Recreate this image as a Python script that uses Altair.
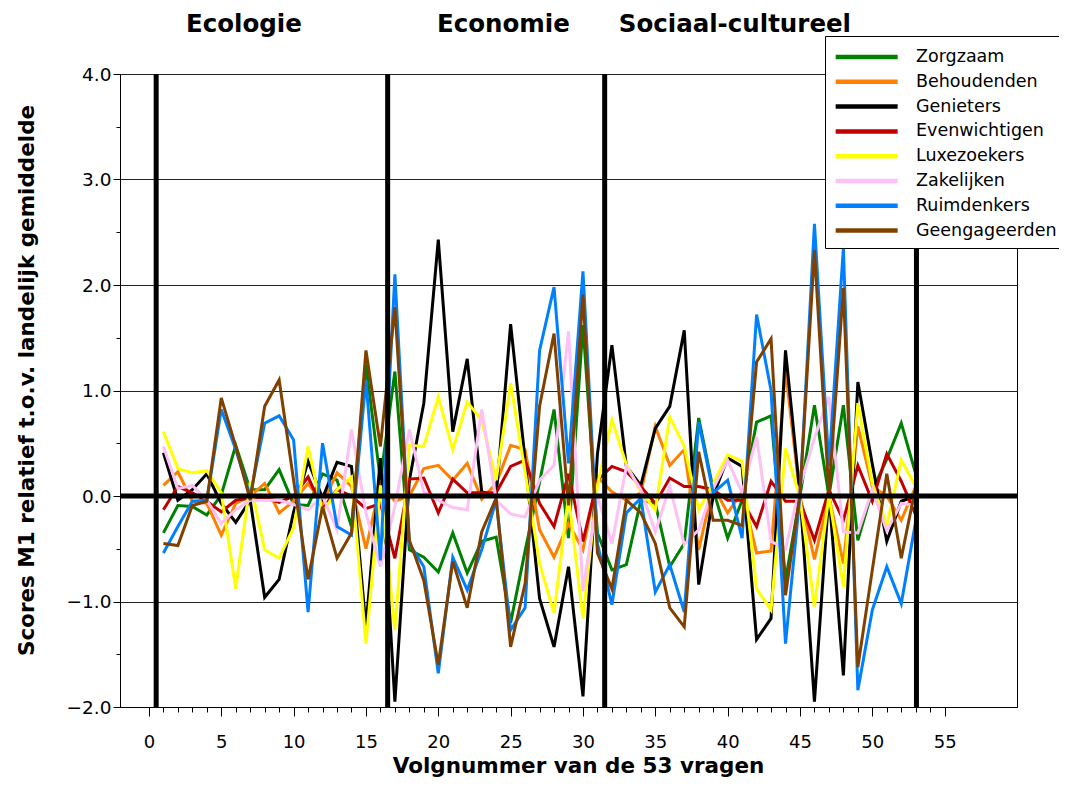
import altair as alt
import pandas as pd

# ---------------- data ----------------
questions = list(range(1, 54))
groups = ["Zorgzaam", "Behoudenden", "Genieters", "Evenwichtigen",
          "Luxezoekers", "Zakelijken", "Ruimdenkers", "Geengageerden"]

zorgzaam = [-0.35, -0.09, -0.10, -0.18, 0.01, 0.48, 0.06, 0.06, 0.25, -0.08,
            -0.09, 0.21, 0.15, -0.29, 1.24, 0.15, 1.18, -0.51, -0.58, -0.72,
            -0.35, -0.73, -0.43, -0.39, -1.20, -0.52, 0.13, 0.82, -0.40, 1.62,
            -0.35, -0.70, -0.65, -0.04, -0.07, -0.67, -0.45, 0.74, 0.06, -0.40,
            -0.04, 0.70, 0.76, -0.80, 0.00, 0.86, 0.00, 0.86, -0.42, 0.05,
            0.35, 0.69, 0.21]
behoudenden = [0.10, 0.23, -0.05, -0.07, -0.37, -0.07, 0.00, 0.12, -0.16, -0.05,
               0.12, -0.07, 0.22, 0.09, -0.50, 0.12, -0.05, 0.00, 0.26, 0.29,
               0.15, 0.31, -0.03, 0.12, 0.48, 0.44, -0.32, -0.58, -0.26, -0.51,
               0.18, 0.04, -0.04, 0.03, 0.66, 0.29, 0.44, -0.51, 0.09, -0.16,
               0.04, -0.54, -0.52, 1.19, 0.00, -0.60, 0.00, -0.64, 0.66, 0.09,
               0.00, -0.23, 0.09]
genieters = [0.41, -0.04, 0.06, 0.21, -0.07, -0.25, -0.04, -0.96, -0.79, -0.15,
             0.33, -0.02, 0.32, 0.28, -1.24, 0.36, -1.95, 0.15, 0.88, 2.43,
             0.61, 1.30, 0.04, 0.00, 1.63, 0.34, -0.97, -1.43, -0.67, -1.90,
             0.40, 1.43, 0.28, 0.10, 0.64, 0.85, 1.57, -0.84, 0.00, 0.36,
             0.28, -1.36, -1.16, 1.38, 0.02, -1.95, 0.03, -1.70, 1.08, 0.30,
             -0.43, -0.05, 0.00]
evenwichtigen = [-0.13, 0.09, 0.03, -0.05, -0.15, -0.04, -0.02, -0.02, -0.06, 0.00,
                 0.18, -0.12, 0.06, 0.00, -0.12, -0.07, -0.59, 0.16, 0.17, -0.16,
                 0.16, 0.03, 0.03, 0.03, 0.28, 0.34, -0.07, -0.29, 0.21, -0.43,
                 0.15, 0.28, 0.23, 0.09, -0.07, 0.17, 0.09, 0.09, 0.06, -0.04,
                 -0.04, -0.29, 0.14, -0.05, -0.05, -0.42, 0.06, -0.23, 0.29, -0.05,
                 0.40, 0.14, -0.18]
luxezoekers = [0.61, 0.26, 0.22, 0.24, 0.03, -0.88, 0.13, -0.51, -0.59, -0.30,
               0.47, -0.16, 0.06, 0.18, -1.40, 0.10, -1.27, 0.48, 0.47, 0.94,
               0.44, 0.89, 0.72, 0.15, 1.07, 0.23, -0.64, -1.11, 0.00, -1.16,
               0.10, 0.72, 0.30, 0.04, -0.13, 0.75, 0.47, -0.13, 0.12, 0.39,
               0.33, -0.88, -1.08, 0.45, -0.02, -1.05, 0.00, -0.86, 0.88, 0.12,
               -0.28, 0.34, 0.09]
zakelijken = [0.47, 0.07, 0.10, -0.04, -0.26, -0.13, -0.04, -0.04, -0.04, -0.08,
              -0.13, 0.00, -0.32, 0.63, -0.16, -0.67, -0.10, 0.63, 0.04, -0.04,
              -0.11, -0.13, 0.82, -0.04, -0.17, -0.20, 0.15, 0.29, 1.56, -0.90,
              0.00, -0.45, 0.28, 0.06, -0.34, 0.09, -0.46, -0.32, 0.07, 0.34,
              0.03, 0.56, -0.43, -0.50, 0.09, 0.55, 0.94, -0.34, -0.35, 0.06,
              -0.33, -0.07, -0.09]
ruimdenkers = [-0.54, -0.29, -0.05, -0.04, 0.82, 0.44, 0.00, 0.69, 0.76, 0.53,
               -1.10, 0.50, -0.29, -0.37, 1.10, -0.61, 2.10, -0.45, -0.67, -1.68,
               -0.58, -0.89, -0.51, -0.04, -1.27, -1.06, 1.38, 1.98, 0.31, 2.13,
               -0.45, -1.03, -0.16, -0.02, -0.91, -0.65, -1.10, 0.70, 0.03, 0.15,
               -0.40, 1.72, 1.00, -1.40, 0.00, 2.58, 0.28, 2.35, -1.84, -1.08,
               -0.67, -1.02, -0.24]
geengageerden = [-0.45, -0.47, -0.09, -0.05, 0.93, 0.47, -0.04, 0.85, 1.10, 0.15,
                 -0.79, -0.10, -0.59, -0.35, 1.38, 0.47, 1.79, -0.42, -0.80, -1.60,
                 -0.62, -1.06, -0.34, -0.02, -1.43, -0.83, 0.85, 1.54, -0.09, 1.91,
                 -0.54, -0.88, -0.04, -0.16, -0.45, -1.06, -1.24, 0.42, -0.23, -0.23,
                 -0.28, 1.27, 1.49, -0.94, 0.02, 2.33, 0.03, 1.97, -1.62, -0.70,
                 0.21, -0.59, 0.09]

sections = ["Ecologie", "Economie", "Sociaal-cultureel"]
section_bounds = [0.5, 16.5, 31.5, 53.05]
x_major_ticks = list(range(0, 56, 5))
x_minor_ticks = list(range(0, 56))
y_major_ticks = [-2.0, -1.0, 0.0, 1.0, 2.0, 3.0, 4.0]
y_minor_ticks = [-2.0, -1.5, -1.0, -0.5, 0.0, 0.5, 1.0, 1.5, 2.0, 2.5, 3.0, 3.5, 4.0]

# ---------------- styling ----------------
colors = ["#008000", "#ff8000", "#000000", "#c00000",
          "#ffff00", "#ffc0f5", "#0080ff", "#804000"]
section_title_x = [6.56, 24.5, 40.5]
FONT = "DejaVu Sans"

series = [zorgzaam, behoudenden, genieters, evenwichtigen,
          luxezoekers, zakelijken, ruimdenkers, geengageerden]
rows = []
for g, vals in zip(groups, series):
    for q, v in zip(questions, vals):
        rows.append({"vraag": q, "score": v, "groep": g})
df = pd.DataFrame(rows)

xscale = alt.Scale(domain=[-2, 60], nice=False, zero=False)
yscale = alt.Scale(domain=[-2, 4], nice=False, zero=False)

xaxis = alt.Axis(
    orient="bottom", values=x_major_ticks, tickSize=9,
    tickColor="black", domainColor="black", grid=False,
    labelFont=FONT, labelFontSize=18, labelColor="black",
    labelPadding=17, labelFlush=False, labelOverlap=False,
    title="Volgnummer van de 53 vragen", titleFont=FONT, titleFontSize=21.5,
    titleFontWeight="bold", titleColor="black",
    titleX=458, titleY=65, titleBaseline="alphabetic", titleAlign="center",
)
xaxis_minor = alt.Axis(
    orient="bottom", values=x_minor_ticks, tickSize=5, tickColor="black",
    labels=False, domain=False, grid=False, title=None,
)
yaxis = alt.Axis(
    orient="left", values=y_major_ticks, format=".1f", tickSize=7,
    tickColor="black", domainColor="black",
    grid=True, gridColor="#222222", gridWidth=1,
    labelFont=FONT, labelFontSize=18.5, labelColor="black",
    labelPadding=2, labelFlush=False, labelOverlap=False,
    title="Scores M1 relatief t.o.v. landelijk gemiddelde", titleFont=FONT,
    titleFontSize=21.5, titleFontWeight="bold", titleColor="black",
    titleAngle=270, titleX=-87, titleY=306, titleBaseline="alphabetic",
    titleAlign="center",
)
yaxis_minor = alt.Axis(
    orient="left", values=y_minor_ticks, tickSize=4, tickColor="black",
    labels=False, domain=False, grid=False, title=None,
)

legend = alt.Legend(
    title=None, orient="none", legendX=705, legendY=-38,
    symbolType="M-1,0H5", symbolSize=427, symbolStrokeWidth=4.5,
    symbolFillColor="transparent",
    labelFont=FONT, labelFontSize=17.5, labelColor="black",
    fillColor="white", strokeColor="black", padding=8,
    rowPadding=2.8, labelOffset=57, labelLimit=300,
)

lines = alt.Chart(df).mark_line(strokeWidth=3).encode(
    x=alt.X("vraag:Q", scale=xscale, axis=xaxis),
    y=alt.Y("score:Q", scale=yscale, axis=yaxis),
    color=alt.Color("groep:N", scale=alt.Scale(domain=groups, range=colors),
                    legend=legend, sort=groups),
)

vrules = alt.Chart(pd.DataFrame({"grens": section_bounds})).mark_rule(
    strokeWidth=5, color="black"
).encode(x=alt.X("grens:Q", axis=xaxis_minor))

zero_rule = alt.Chart(pd.DataFrame({"nul": [0.0]})).mark_rule(
    strokeWidth=5, color="black"
).encode(y=alt.Y("nul:Q", axis=yaxis_minor))

titles = alt.Chart(pd.DataFrame({"sectie": sections, "xc": section_title_x})).mark_text(
    font=FONT, fontSize=24.5, fontWeight="bold", color="black",
    align="center", baseline="alphabetic", y=-42,
).encode(x=alt.X("xc:Q", axis=None), text="sectie:N")

chart = alt.layer(lines, vrules, zero_rule, titles).resolve_axis(
    x="independent", y="independent"
).properties(
    width=897, height=633,
    autosize=alt.AutoSizeParams(type="none"),
    padding={"left": 112, "top": 66, "right": 42, "bottom": 70},
).configure_view(stroke="black", strokeWidth=1)

chart.save("out.html", embed_options={"renderer": "svg", "actions": False})
